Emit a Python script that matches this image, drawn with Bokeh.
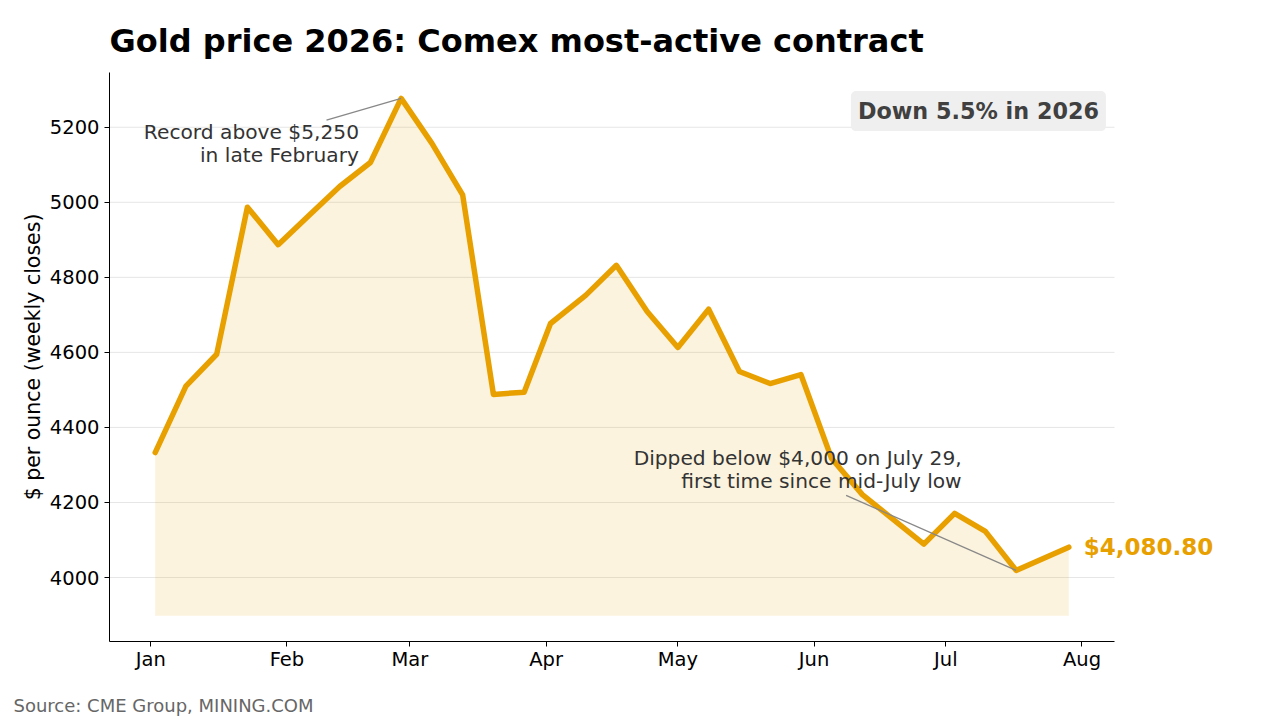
from datetime import datetime

from bokeh.embed import file_html
from bokeh.layouts import column
from bokeh.models import (ColumnDataSource, DatetimeTickFormatter, FixedTicker,
                          Label, Range1d, Title)
from bokeh.plotting import figure
from bokeh.resources import INLINE

# Weekly closes, Comex most-active gold contract (USD / oz)
week_dates = [
    "2026-01-02", "2026-01-09", "2026-01-16", "2026-01-23", "2026-01-30",
    "2026-02-06", "2026-02-13", "2026-02-20", "2026-02-27",
    "2026-03-06", "2026-03-13", "2026-03-20", "2026-03-27",
    "2026-04-02", "2026-04-10", "2026-04-17", "2026-04-24",
    "2026-05-01", "2026-05-08", "2026-05-15", "2026-05-22", "2026-05-29",
    "2026-06-05", "2026-06-12", "2026-06-19", "2026-06-26",
    "2026-07-03", "2026-07-10", "2026-07-17", "2026-07-29",
]
closes = [
    4333, 4510, 4595, 4987, 4887,
    4965, 5042, 5106, 5277,
    5157, 5020, 4488, 4494,
    4677, 4752, 4832, 4709,
    4613, 4715, 4549, 4517, 4541,
    4317, 4221, 4155, 4089,
    4171, 4123, 4019, 4080.80,
]
month_ticks = ["2026-01-01", "2026-02-01", "2026-03-01", "2026-04-01",
               "2026-05-01", "2026-06-01", "2026-07-01", "2026-08-01"]
y_ticks = [4000, 4200, 4400, 4600, 4800, 5000, 5200]

GOLD = "#E8A000"
FONT = "DejaVu Sans"
DAY = 86400000.0

# plot area: axes span 1005 px; the frame runs further right so the
# end-of-line value label has room outside the axes
AXES_W = 1005
FRAME_LEFT, FRAME_RIGHT = 109, 1270
CHART_H, FOOTER_H = 690, 30


def ms(s):
    return (datetime.fromisoformat(s) - datetime(1970, 1, 1)).total_seconds() * 1000.0


xs = [ms(d) for d in week_dates]
baseline = min(closes) * 0.97
src = ColumnDataSource(dict(x=xs, y=closes, base=[baseline] * len(xs)))

x_span = xs[-1] - xs[0]
x0 = xs[0] - 0.05 * x_span
x1 = xs[-1] + 0.05 * x_span
x_end = x0 + (x1 - x0) * (FRAME_RIGHT - FRAME_LEFT) / AXES_W
y_span = max(closes) - baseline

p = figure(
    width=1280, height=CHART_H, x_axis_type="datetime",
    output_backend="svg", toolbar_location=None,
    min_border_left=FRAME_LEFT, min_border_right=1280 - FRAME_RIGHT,
    min_border_top=72, min_border_bottom=CHART_H - 641,
    x_range=Range1d(x0, x_end),
    y_range=Range1d(baseline - 0.05 * y_span, max(closes) + 0.05 * y_span),
)
p.outline_line_color = None
p.background_fill_color = "white"
p.border_fill_color = "white"

# horizontal grid limited to the axes width
p.xgrid.grid_line_color = None
p.ygrid.grid_line_color = None
p.segment(x0=[x0] * len(y_ticks), y0=y_ticks, x1=[x1] * len(y_ticks), y1=y_ticks,
          line_color="#e6e6e6", line_width=1)

# shaded area under the price line, then the line itself
p.varea(x="x", y1="base", y2="y", source=src, fill_color=GOLD, fill_alpha=0.13)
p.line(x="x", y="y", source=src, line_color=GOLD, line_width=5.5,
       line_join="round", line_cap="round")

# axes
p.xaxis.ticker = FixedTicker(ticks=[ms(m) for m in month_ticks])
p.xaxis.formatter = DatetimeTickFormatter(
    milliseconds="%b", seconds="%b", minsec="%b", minutes="%b", hourmin="%b",
    hours="%b", days="%b", months="%b", years="%b", context=None)
p.xaxis.bounds = (x0, x1)
p.yaxis.ticker = FixedTicker(ticks=y_ticks)
for ax in (p.xaxis, p.yaxis):
    ax.axis_line_color = "black"
    ax.axis_line_width = 1
    ax.major_tick_line_color = "black"
    ax.major_tick_out = 5
    ax.major_tick_in = 0
    ax.minor_tick_line_color = None
    ax.major_label_text_font = FONT
    ax.major_label_text_font_size = "19.5px"
    ax.major_label_text_color = "black"
    ax.major_label_standoff = 5
p.xaxis.major_label_standoff = 1
p.yaxis.axis_label = "$ per ounce (weekly closes)"
p.yaxis.axis_label_text_font = FONT
p.yaxis.axis_label_text_font_size = "20.5px"
p.yaxis.axis_label_text_font_style = "normal"
p.yaxis.axis_label_text_color = "black"
p.yaxis.axis_label_standoff = 2

# title
title = Title(text="Gold price 2026: Comex most-active contract", align="left",
              text_font=FONT, text_font_size="32px", text_font_style="bold",
              text_color="black", standoff=25)
p.add_layout(title, "above")

# annotation: record high
peak_i = closes.index(max(closes))
p.segment(x0=[ms("2026-02-10")], y0=[5219], x1=[xs[peak_i]], y1=[closes[peak_i]],
          line_color="#888888", line_width=1.3)
p.add_layout(Label(x=ms("2026-02-17") + 0.4 * DAY, y=5157,
                   text="Record above $5,250\nin late February",
                   text_align="right", text_baseline="middle", text_line_height=0.94,
                   text_font=FONT, text_font_size="20.2px", text_color="#333333"))

# annotation: mid-July low
low_i = closes.index(min(closes))
p.segment(x0=[ms("2026-06-08") + 0.3 * DAY], y0=[4219], x1=[xs[low_i]], y1=[closes[low_i]],
          line_color="#888888", line_width=1.3)
p.add_layout(Label(x=ms("2026-07-04") + 0.6 * DAY, y=4288,
                   text="Dipped below $4,000 on July 29,\nfirst time since mid-July low",
                   text_align="right", text_baseline="middle", text_line_height=0.94,
                   text_font=FONT, text_font_size="20.2px", text_color="#333333"))

# latest value label
p.add_layout(Label(x=xs[-1], y=closes[-1], x_offset=15,
                   text=f"${closes[-1]:,.2f}",
                   text_align="left", text_baseline="middle",
                   text_font=FONT, text_font_size="23px", text_font_style="bold",
                   text_color=GOLD))

# year-to-date change badge
p.add_layout(Label(x=ms("2026-08-06") + 0.45 * DAY, y=5243, text="Down 5.5% in 2026",
                   text_align="right", text_baseline="middle",
                   text_font=FONT, text_font_size="22.3px", text_font_style="bold",
                   text_color="#404040", background_fill_color="#efefef",
                   background_fill_alpha=1.0, padding=7, border_radius=5))

# footer strip with the source line (its frame spans the full width)
foot = figure(width=1280, height=FOOTER_H, output_backend="svg", toolbar_location=None,
              x_range=Range1d(0, 1280), y_range=Range1d(0, FOOTER_H),
              x_axis_location=None, y_axis_location=None,
              min_border_left=0, min_border_right=0, min_border_top=0, min_border_bottom=0)
foot.frame_align = False
foot.outline_line_color = None
foot.xgrid.grid_line_color = None
foot.ygrid.grid_line_color = None
foot.background_fill_color = "white"
foot.border_fill_color = "white"
foot.add_layout(Label(x=13, y=FOOTER_H - 15, text="Source: CME Group, MINING.COM",
                      text_align="left", text_baseline="middle",
                      text_font=FONT, text_font_size="18px", text_color="#666666"))

layout = column(p, foot, spacing=0)
open("out.html", "w").write(file_html(layout, INLINE))
